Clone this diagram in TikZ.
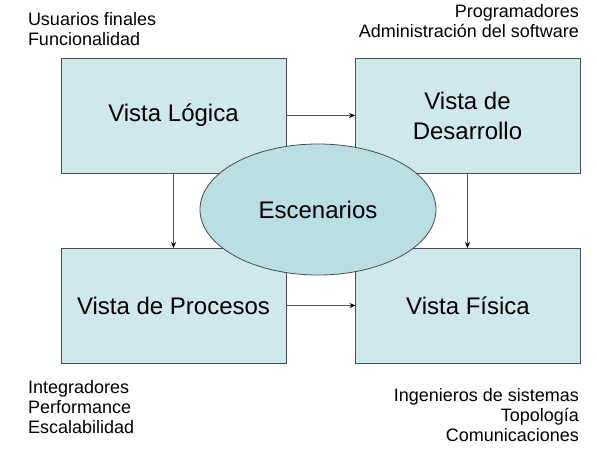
\documentclass[tikz,border=0pt]{standalone}
\usepackage{fontspec}
\setmainfont{Liberation Sans}
\usetikzlibrary{arrows.meta,shapes.geometric}
\definecolor{boxfill}{HTML}{CFE8EA}
\definecolor{ellfill}{HTML}{BADFE3}
\definecolor{edgecol}{HTML}{4A4A4A}
\definecolor{arrcol}{HTML}{555555}
\begin{document}
\begin{tikzpicture}[x=1pt,y=-1pt,
  viewbox/.style={draw=edgecol, line width=1pt, fill=boxfill, minimum width=225pt, minimum height=115pt,
    inner sep=0pt, outer sep=0pt, align=center, font=\fontsize{24}{30}\selectfont},
  scen/.style={ellipse, draw=edgecol, line width=0.8pt, fill=ellfill, minimum width=236pt, minimum height=131pt,
    inner sep=0pt, outer sep=0pt, font=\fontsize{24}{30}\selectfont},
  flow/.style={draw=arrcol, line width=0.9pt, -{Stealth[length=6pt,width=5pt,color=black]}},
  note/.style={inner sep=0pt, outer sep=0pt, font=\fontsize{18}{20}\selectfont}
]
\useasboundingbox (0,0) rectangle (597,458);
\fill[white] (0,0) rectangle (597,458);

\node[viewbox] (log) at (173.5,115.5) {Vista Lógica};
\node[viewbox] (des) at (467.5,116) {Vista de\\Desarrollo};
\node[viewbox] (pro) at (173.5,305.5) {Vista de Procesos};
\node[viewbox] (fis) at (468,305.5) {Vista Física};

\draw[flow] (log.east) -- (des.west |- log.east);
\draw[flow] (pro.east) -- (fis.west |- pro.east);
\draw[flow] (log.south) -- (pro.north);
\draw[flow] (des.south) -- (des.south |- fis.north);

\node[scen] (esc) at (318,209.5) {Escenarios};

\node[note, anchor=north west, align=left] (n1) at (28,12) {Usuarios finales\\Funcionalidad};
\node[note, anchor=north east, align=right] (n2) at (579,4) {Programadores\\Administración del software};
\node[note, anchor=north west, align=left] (n3) at (28,380) {Integradores\\Performance\\Escalabilidad};
\node[note, anchor=north east, align=right] (n4) at (579,388) {Ingenieros de sistemas\\Topología\\Comunicaciones};
\end{tikzpicture}
\end{document}
